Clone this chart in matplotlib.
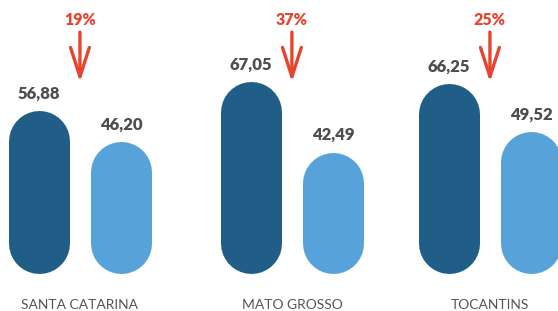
import numpy as np
import matplotlib.pyplot as plt

states = ['SANTA CATARINA', 'MATO GROSSO', 'TOCANTINS']
before = [56.88, 67.05, 66.25]
after = [46.20, 42.49, 49.52]
drops = ['19%', '37%', '25%']

dark = '#215e87'
light = '#57a2d8'
red = '#e8432e'
grey = '#4d4d4d'

fig = plt.figure(figsize=(5.58, 3.11), dpi=100)
ax = fig.add_axes([0, 0, 1, 1])
ax.set_xlim(-0.39, 2.332)
ax.set_ylim(-12.9, 95.5)
ax.axis('off')

# group centres, middle one sits a bit to the right in the original
group_x = np.array([0, 1.034, 2.0])
off = 0.2
bar_px = 61

# pixel size of one y unit, to keep the pill caps round
p0 = ax.transData.transform((0, 0))
p1 = ax.transData.transform((0, 1))
r = (bar_px / 2) / (p1[1] - p0[1])

def pill(x, h, color):
    ax.plot([x, x], [r, h - r], color=color, lw=bar_px * 72 / 100,
            solid_capstyle='round')

for i in range(len(states)):
    xs = [group_x[i] - off, group_x[i] + off]
    vals = [before[i], after[i]]
    pill(xs[0], vals[0], dark)
    pill(xs[1], vals[1], light)
    for xx, v in zip(xs, vals):
        ax.annotate(('%.2f' % v).replace('.', ','), (xx, v), xytext=(0, 6.5),
                    textcoords='offset points', ha='center', va='bottom',
                    fontsize=12, fontweight='heavy', family='Lato', color=grey)
    ax.text(group_x[i], 91.3, drops[i], ha='center', va='top', fontsize=11.5,
            fontweight='heavy', family='Lato', color=red)
    ax.annotate('', xy=(group_x[i], 66.9), xytext=(group_x[i], 84.3),
                arrowprops=dict(arrowstyle='->,head_length=21,head_width=6.8',
                                mutation_scale=1, lw=2.4, color=red,
                                shrinkA=0, shrinkB=0))
    ax.text(group_x[i], -12.2, states[i], ha='center', va='baseline', fontsize=10,
            family='Lato', color='#555555')

fig.savefig('out.png', dpi=100)
